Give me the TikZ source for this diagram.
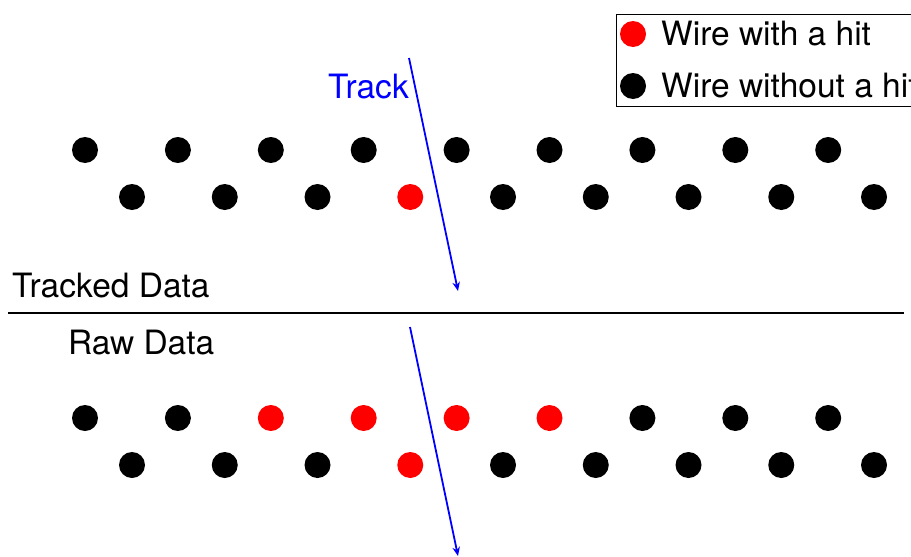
\documentclass[tikz,border=0pt]{standalone}
\usepackage{fontspec}
\setmainfont{TeX Gyre Heros}
\usetikzlibrary{arrows.meta}
\begin{document}
\begin{tikzpicture}[x=1pt,y=-1pt,
  wire/.style={circle,fill=black,minimum size=26pt,inner sep=0pt},
  hit/.style={wire,fill=red},
  lbl/.style={font=\fontsize{33.5}{38}\selectfont, inner sep=0pt, anchor=base west},
  track/.style={blue, line width=1.8pt, -{Stealth[length=9pt,width=7.5pt]}},
  sep/.style={line width=1.3pt}]
\clip (0,0) rectangle (911,557);
\fill[white] (0,0) rectangle (911,557);
% upper (tracked) wires
\foreach \i/\s in {0/wire,1/wire,2/wire,3/wire,4/wire,5/wire,6/wire,7/wire,8/wire}
  \node[\s] (ta\i) at ({85+92.9*\i},150) {};
\foreach \i/\s in {0/wire,1/wire,2/wire,3/hit,4/wire,5/wire,6/wire,7/wire,8/wire}
  \node[\s] (tb\i) at ({132+92.75*\i},197) {};
% lower (raw) wires
\foreach \i/\s in {0/wire,1/wire,2/hit,3/hit,4/hit,5/hit,6/wire,7/wire,8/wire}
  \node[\s] (ra\i) at ({85+92.9*\i},418) {};
\foreach \i/\s in {0/wire,1/wire,2/wire,3/hit,4/wire,5/wire,6/wire,7/wire,8/wire}
  \node[\s] (rb\i) at ({132+92.75*\i},465) {};
% tracks
\coordinate (t1s) at (409,58);
\coordinate (t1e) at (458,291);
\coordinate (t2s) at (410,327);
\coordinate (t2e) at (458,556);
\draw[track] (t1s) -- (t1e);
\draw[track] (t2s) -- (t2e);
\node[lbl, text=blue, anchor=base east] (tracklbl) at (409,98) {Track};
% separator
\coordinate (sl) at (8,313);
\coordinate (sr) at (904,313);
\draw[sep] (sl) -- (sr);
\node[lbl] (tracked) at (12,297) {Tracked Data};
\node[lbl] (raw) at (68,354) {Raw Data};
% legend
\node[draw, line width=1.2pt, minimum width=330pt, minimum height=92pt, anchor=north west, inner sep=0pt] (legend) at (616,14) {};
\node[hit] (lh) at (633,34) {};
\node[wire] (lw) at (633,86) {};
\node[lbl] (lht) at (661,45) {Wire with a hit};
\node[lbl] (lwt) at (661,97) {Wire without a hit};
\end{tikzpicture}
\end{document}
